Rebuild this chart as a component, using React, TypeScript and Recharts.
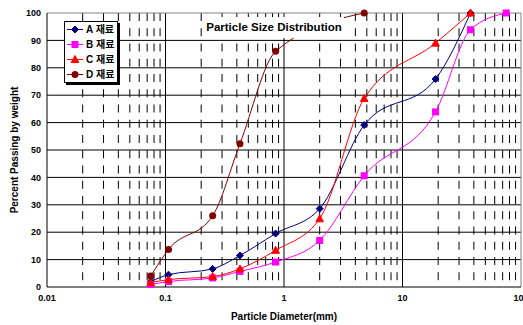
import React from 'react';
import { LineChart, Line, XAxis, YAxis, CartesianGrid } from 'recharts';

// sieve sizes (mm) and percent passing for each material
const sieveSizes = [0.075, 0.106, 0.25, 0.425, 0.85, 2, 4.75, 19, 37.5, 75];
const passA = [2.0, 4.5, 6.6, 11.5, 19.5, 28.6, 59.1, 75.9, 100, null];
const passB = [0.9, 2.0, 3.3, 5.7, 9.1, 17.0, 40.6, 63.9, 93.9, 100];
const passC = [1.6, 2.7, 3.8, 6.6, 13.4, 24.9, 68.8, 89.0, 100, null];
const passD = [4.0, 13.7, 26.0, 52.3, 86.0, null, 100, null, null, null];

const seriesNames = ['A 재료', 'B 재료', 'C 재료', 'D 재료'];

const xTicks = [0.01, 0.1, 1, 10, 100];
const yTicks = [0, 10, 20, 30, 40, 50, 60, 70, 80, 90, 100];
const innerY = [10, 20, 30, 40, 50, 60, 70, 80, 90];
const majorX = [0.1, 1, 10];
const minorX = [
  0.02, 0.03, 0.04, 0.05, 0.06, 0.07, 0.08, 0.09,
  0.2, 0.3, 0.4, 0.5, 0.6, 0.7, 0.8, 0.9,
  2, 3, 4, 5, 6, 7, 8, 9,
  20, 30, 40, 50, 60, 70, 80, 90,
];

const FONT = '"Liberation Sans", Arial, "Noto Sans CJK KR", sans-serif';

const toSeries = (vals: (number | null)[]) =>
  sieveSizes
    .map((x, i) => ({ x, y: vals[i] }))
    .filter((p) => p.y !== null);

type Shape = 'diamond' | 'square' | 'triangle' | 'circle';

const series: { name: string; color: string; shape: Shape; data: { x: number; y: number | null }[] }[] = [
  { name: seriesNames[0], color: '#000080', shape: 'diamond', data: toSeries(passA) },
  { name: seriesNames[1], color: '#ff00ff', shape: 'square', data: toSeries(passB) },
  { name: seriesNames[2], color: '#ff0000', shape: 'triangle', data: toSeries(passC) },
  { name: seriesNames[3], color: '#800000', shape: 'circle', data: toSeries(passD) },
];

const toPx = (scale: any, v: number) => {
  if (typeof scale === 'function') return scale(v);
  if (scale && typeof scale.map === 'function') return scale.map(v);
  return 0;
};

const Marker = ({ shape, color, x, y }: { shape: Shape; color: string; x: number; y: number }) => {
  if (shape === 'diamond')
    return <polygon points={`${x},${y - 3.5} ${x + 3.5},${y} ${x},${y + 3.5} ${x - 3.5},${y}`} fill={color} stroke={color} />;
  if (shape === 'square') return <rect x={x - 3.5} y={y - 3.5} width={7} height={7} fill={color} />;
  if (shape === 'triangle')
    return <polygon points={`${x},${y - 4} ${x + 3.8},${y + 3} ${x - 3.8},${y + 3}`} fill={color} stroke={color} />;
  return <circle cx={x} cy={y} r={3.5} fill={color} />;
};

const makeDot = (shape: Shape, color: string) => (props: any) => {
  const { cx, cy, index } = props;
  if (cx == null || cy == null) return <g key={`e-${index}`} />;
  return <Marker key={`${shape}-${index}`} shape={shape} color={color} x={cx} y={cy} />;
};

// legend box sits over the plot, top-left
const LegendBox = () => (
  <div
    style={{
      position: 'absolute',
      left: 64,
      top: 21,
      width: 54,
      height: 62,
      boxSizing: 'border-box',
      border: '1px solid #000',
      background: '#fff',
      boxShadow: '2px 2px 0 #000',
      fontFamily: FONT,
    }}
  >
    {series.map((s) => (
      <div key={s.name} style={{ height: 15, display: 'flex', alignItems: 'center' }}>
        <svg width={20} height={15} style={{ display: 'block', flex: 'none' }}>
          <line x1={2} y1={7.5} x2={18} y2={7.5} stroke={s.color} strokeWidth={1} />
          <Marker shape={s.shape} color={s.color} x={10} y={7.5} />
        </svg>
        <span style={{ fontSize: 10, lineHeight: '12px', fontWeight: 'bold', color: '#000', whiteSpace: 'nowrap', marginLeft: 1 }}>
          {s.name}
        </span>
      </div>
    ))}
  </div>
);

const App: React.FC = () => {
  return (
    <div style={{ position: 'absolute', left: 0, top: 0, width: 523, height: 325, background: '#fff', overflow: 'hidden' }}>
      <LineChart width={523} height={325} margin={{ top: 13, right: 2, bottom: 0, left: 0 }}>
        <CartesianGrid
          vertical={false}
          stroke="#000"
          horizontalCoordinatesGenerator={({ yAxis }: any) => innerY.map((v) => toPx(yAxis.scale, v))}
        />
        <CartesianGrid
          horizontal={false}
          stroke="#000"
          strokeDasharray="8 7.25"
          verticalCoordinatesGenerator={({ xAxis }: any) => minorX.map((v) => toPx(xAxis.scale, v))}
        />
        <CartesianGrid
          horizontal={false}
          stroke="#000"
          verticalCoordinatesGenerator={({ xAxis }: any) => majorX.map((v) => toPx(xAxis.scale, v))}
        />
        <CartesianGrid
          stroke="#808080"
          horizontalCoordinatesGenerator={({ yAxis }: any) => [toPx(yAxis.scale, 100)]}
          verticalCoordinatesGenerator={({ xAxis }: any) => [toPx(xAxis.scale, 100)]}
        />
        <XAxis
          type="number"
          dataKey="x"
          scale="log"
          domain={[0.01, 100]}
          ticks={xTicks}
          interval={0}
          allowDataOverflow
          height={38}
          tickLine={false}
          axisLine={{ stroke: '#000' }}
          tick={{ fill: '#000', fontSize: 9, fontWeight: 'bold', fontFamily: FONT }}
          tickFormatter={(v: number) => String(v)}
          label={({ viewBox }: any) => (
            <text
              x={viewBox.x + viewBox.width / 2}
              y={320}
              textAnchor="middle"
              fontSize={10}
              fontWeight="bold"
              fontFamily={FONT}
              fill="#000"
            >
              Particle Diameter(mm)
            </text>
          )}
        />
        <YAxis
          type="number"
          domain={[0, 100]}
          ticks={yTicks}
          interval={0}
          width={47}
          tickLine={false}
          tickMargin={0}
          axisLine={{ stroke: '#000' }}
          tick={{ fill: '#000', fontSize: 9, fontWeight: 'bold', fontFamily: FONT }}
          label={({ viewBox }: any) => {
            const cy = viewBox.y + viewBox.height / 2;
            return (
              <text
                x={18}
                y={cy}
                transform={`rotate(-90, 18, ${cy})`}
                textAnchor="middle"
                fontSize={10}
                fontWeight="bold"
                fontFamily={FONT}
                fill="#000"
              >
                Percent Passing by weight
              </text>
            );
          }}
        />
        {series.map((s) => (
          <Line
            key={s.name}
            name={s.name}
            data={s.data}
            dataKey="y"
            type="monotone"
            stroke={s.color}
            strokeWidth={1}
            dot={makeDot(s.shape, s.color)}
            activeDot={false}
            isAnimationActive={false}
          />
        ))}
      </LineChart>
      <LegendBox />
      <div
        style={{
          position: 'absolute',
          left: 204,
          top: 17,
          width: 140,
          height: 21,
          background: '#fff',
          fontFamily: FONT,
          fontSize: 11.5,
          fontWeight: 'bold',
          lineHeight: '21px',
          textAlign: 'center',
          color: '#000',
          whiteSpace: 'nowrap',
        }}
      >
        Particle Size Distribution
      </div>
    </div>
  );
};

export default App;
